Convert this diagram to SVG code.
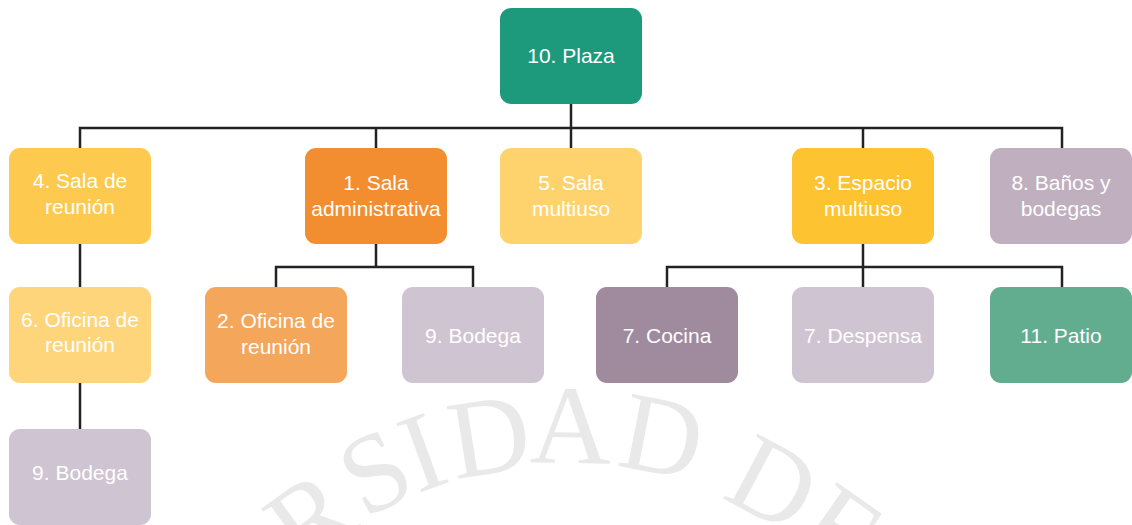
<svg xmlns="http://www.w3.org/2000/svg" width="1132" height="525" viewBox="0 0 1132 525">
<style>
.box{stroke:none}
.lbl{font-family:"Liberation Sans",Arial,sans-serif;font-size:21px;fill:#ffffff;text-anchor:middle}
.wm{font-family:"Liberation Serif","Times New Roman",serif;font-size:112px;fill:#e9e9e9;text-anchor:middle}
.conn{fill:none;stroke:#222222;stroke-width:2.5}
</style>
<rect width="1132" height="525" fill="#ffffff"/>
<g id="watermark">
<text class="wm" transform="translate(332,548) rotate(-36)">R</text>
<text class="wm" transform="translate(392,505) rotate(-27)">S</text>
<text class="wm" transform="translate(435,487) rotate(-20)">I</text>
<text class="wm" transform="translate(495,473) rotate(-9)">D</text>
<text class="wm" transform="translate(570,463) rotate(1)">A</text>
<text class="wm" transform="translate(655,473) rotate(11)">D</text>
<text class="wm" transform="translate(756,516) rotate(28)">D</text>
<text class="wm" transform="translate(820,560) rotate(35)">E</text>
</g>
<g id="connectors">
<path class="conn" d="M571,104 V148"/>
<path class="conn" d="M80,148 V128 H1062 V148"/>
<path class="conn" d="M376,128 V148"/>
<path class="conn" d="M863,128 V148"/>
<path class="conn" d="M80,244 V287"/>
<path class="conn" d="M80,383 V429"/>
<path class="conn" d="M376,244 V267"/>
<path class="conn" d="M276,287 V267 H473 V287"/>
<path class="conn" d="M863,244 V287"/>
<path class="conn" d="M667,287 V267 H1062 V287"/>
</g>
<g id="n10-plaza">
<rect class="box" x="500" y="8" width="142" height="96" rx="11" fill="#1c9a7b"/>
<text class="lbl" x="571" y="63">10. Plaza</text>
</g>
<g id="n4-sala-reunion">
<rect class="box" x="9" y="148" width="142" height="96" rx="11" fill="#fdc94e"/>
<text class="lbl" x="80" y="188">4. Sala de</text>
<text class="lbl" x="80" y="214">reunión</text>
</g>
<g id="n1-sala-admin">
<rect class="box" x="305" y="148" width="142" height="96" rx="11" fill="#f28e2f"/>
<text class="lbl" x="376" y="190">1. Sala</text>
<text class="lbl" x="376" y="216">administrativa</text>
</g>
<g id="n5-sala-multiuso">
<rect class="box" x="500" y="148" width="142" height="96" rx="11" fill="#fed36d"/>
<text class="lbl" x="571" y="190">5. Sala</text>
<text class="lbl" x="571" y="216">multiuso</text>
</g>
<g id="n3-espacio-multiuso">
<rect class="box" x="792" y="148" width="142" height="96" rx="11" fill="#fdc330"/>
<text class="lbl" x="863" y="190">3. Espacio</text>
<text class="lbl" x="863" y="216">multiuso</text>
</g>
<g id="n8-banos">
<rect class="box" x="990" y="148" width="142" height="96" rx="11" fill="#c0afbf"/>
<text class="lbl" x="1061" y="190">8. Baños y</text>
<text class="lbl" x="1061" y="216">bodegas</text>
</g>
<g id="n6-oficina-reunion">
<rect class="box" x="9" y="287" width="142" height="96" rx="11" fill="#fed57b"/>
<text class="lbl" x="80" y="327">6. Oficina de</text>
<text class="lbl" x="80" y="352">reunión</text>
</g>
<g id="n9-bodega-a">
<rect class="box" x="9" y="429" width="142" height="96" rx="11" fill="#cfc4d1"/>
<text class="lbl" x="80" y="480">9. Bodega</text>
</g>
<g id="n2-oficina-reunion">
<rect class="box" x="205" y="287" width="142" height="96" rx="11" fill="#f4a65b"/>
<text class="lbl" x="276" y="328">2. Oficina de</text>
<text class="lbl" x="276" y="354">reunión</text>
</g>
<g id="n9-bodega-b">
<rect class="box" x="402" y="287" width="142" height="96" rx="11" fill="#cfc4d1"/>
<text class="lbl" x="473" y="343">9. Bodega</text>
</g>
<g id="n7-cocina">
<rect class="box" x="596" y="287" width="142" height="96" rx="11" fill="#a08a9e"/>
<text class="lbl" x="667" y="343">7. Cocina</text>
</g>
<g id="n7-despensa">
<rect class="box" x="792" y="287" width="142" height="96" rx="11" fill="#cfc4d1"/>
<text class="lbl" x="863" y="343">7. Despensa</text>
</g>
<g id="n11-patio">
<rect class="box" x="990" y="287" width="142" height="96" rx="11" fill="#62ad90"/>
<text class="lbl" x="1061" y="343">11. Patio</text>
</g>
</svg>
